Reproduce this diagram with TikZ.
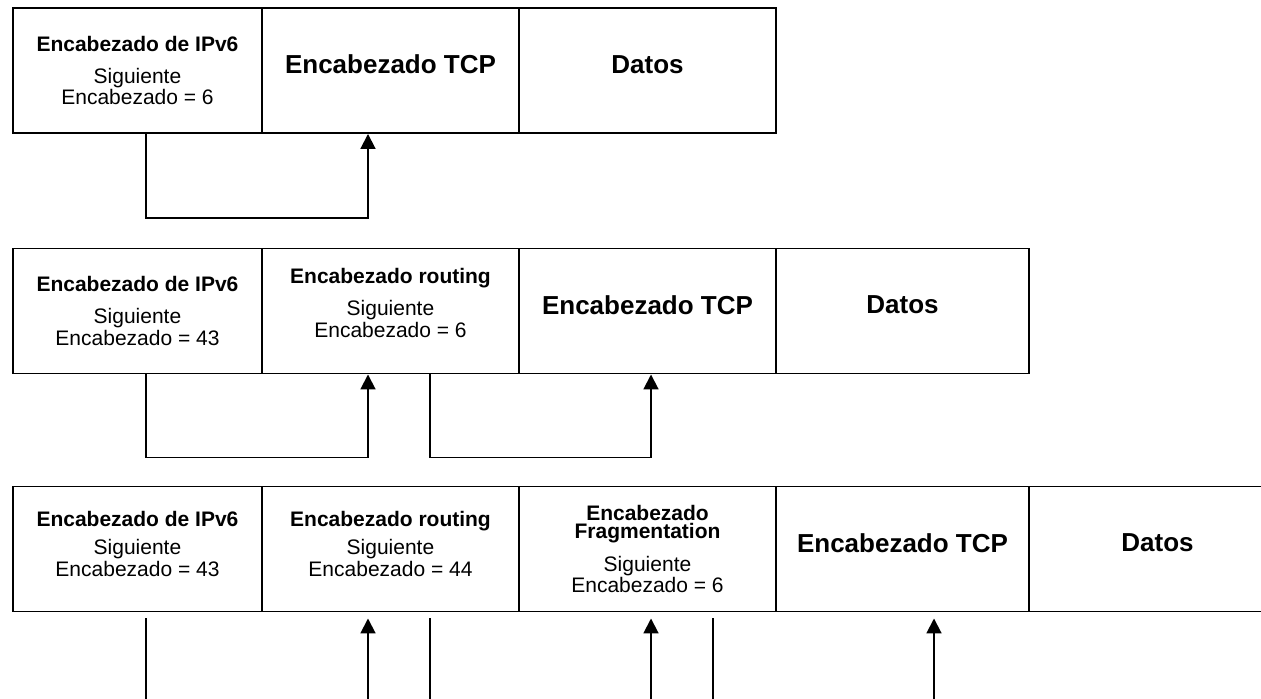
\documentclass[tikz,border=0pt]{standalone}
\usepackage{fontspec}
\setmainfont{Liberation Sans}
\usetikzlibrary{arrows.meta}
\def\px{0.02cm}
\tikzset{
>={Triangle[length=8.5pt,width=8.5pt]},
  texto/.style={
    inner sep=0pt,
    align=center,
    font=\fontsize{11.95}{12.5}\selectfont},
  campo/.style={
    texto,
    draw=black, line width=1.1pt,
    minimum height=125*\px},
  ancho/.style={campo, minimum width=257*\px},
  grande/.style={font=\fontsize{14.8}{17}\selectfont\bfseries, text depth=0.24cm},
  enlace/.style={draw, line width=1.1pt},
  salto/.style={enlace, ->},
}
\def\cabecera#1#2{\textbf{#1}\\[5.7pt]Siguiente\\Encabezado = #2}
\def\cabcorta#1#2{\textbf{#1}\\[3.4pt]Siguiente\\Encabezado = #2}

\begin{document}
\begin{tikzpicture}[x=\px, y=-\px]
  \useasboundingbox (0,0) rectangle (1261,698);
  \clip (0,0) rectangle (1261,698);

  % IPv6 + TCP
  \node[campo, minimum width=249*\px] (ip1) at (137.5,70.5) {\cabecera{Encabezado de IPv6}{6}};
  \node[ancho, grande] (tcp1) at (390.5,70.5) {Encabezado TCP};
  \node[ancho, grande] (dat1) at (647.5,70.5) {Datos};
  \draw[salto] (ip1.south -| 146,0) -- ++(0,84) -| (tcp1.south -| 368,0);

  % IPv6 + routing + TCP
  \node[campo, minimum width=249*\px] (ip2) at (137.5,311) {\cabecera{Encabezado de IPv6}{43}};
  \node[ancho] (rt2) at (390.5,311) {};
  \node[texto] (rt2t) at ([yshift=0.16cm]rt2.center) {\cabecera{Encabezado routing}{6}};
  \node[ancho, grande] (tcp2) at (647.5,311) {Encabezado TCP};
  \node[campo, grande, minimum width=253*\px] (dat2) at (902.5,311) {Datos};
  \draw[salto] (ip2.south -| 146,0) -- ++(0,83) -| (rt2.south -| 368,0);
  \draw[salto] (rt2.south -| 430,0) -- ++(0,83) -| (tcp2.south -| 651,0);

  % IPv6 + routing + fragmentation + TCP
  \node[campo, minimum width=249*\px] (ip3) at (137.5,549) {};
  \node[texto] (ip3t) at ([yshift=0.1cm]ip3.center) {\cabcorta{Encabezado de IPv6}{43}};
  \node[ancho] (rt3) at (390.5,549) {};
  \node[texto] (rt3t) at ([yshift=0.1cm]rt3.center) {\cabcorta{Encabezado routing}{44}};
  \node[ancho] (fr3) at (647.5,549) {\textbf{Encabezado}\\[-2pt]\textbf{Fragmentation}\\[6pt]Siguiente\\Encabezado = 6};
  \node[ancho, grande, minimum width=253*\px] (tcp3) at (902.5,549) {Encabezado TCP};
  \node[ancho, grande] (dat3) at (1157.5,549) {Datos};
  \draw[enlace] (ip3.south -| 146,0) ++(0,6) -- ++(0,110);
  \draw[salto] (rt3.south -| 368,0) ++(0,116) -- ++(0,-110);
  \draw[enlace] (rt3.south -| 430,0) ++(0,6) -- ++(0,110);
  \draw[salto] (fr3.south -| 651,0) ++(0,116) -- ++(0,-110);
  \draw[enlace] (fr3.south -| 713,0) ++(0,6) -- ++(0,110);
  \draw[salto] (tcp3.south -| 934,0) ++(0,116) -- ++(0,-110);
\end{tikzpicture}
\end{document}
